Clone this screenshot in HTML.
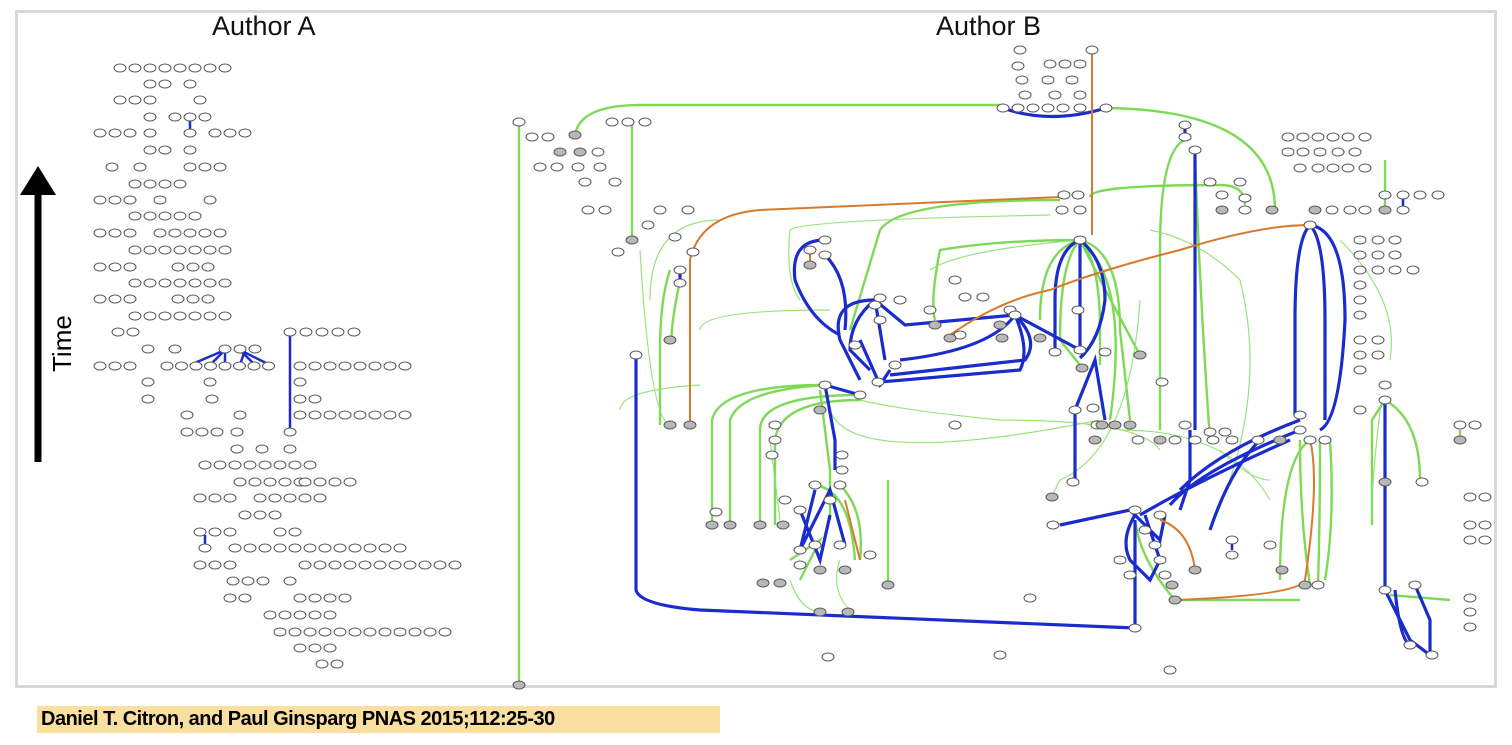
<!DOCTYPE html>
<html><head><meta charset="utf-8"><style>
body{margin:0;width:1512px;height:745px;background:#fff;overflow:hidden;position:relative;font-family:"Liberation Sans",sans-serif}
#frame{position:absolute;left:15px;top:10px;width:1482px;height:678px;border:3px solid #d8d8d8;box-sizing:border-box}
.t{position:absolute;font-size:27px;color:#111;top:11px}
#cap{position:absolute;left:37px;top:706px;width:683px;height:27px;background:#f9e0a0;font-weight:bold;font-size:20px;line-height:27px;padding-left:4px;box-sizing:border-box;letter-spacing:-0.5px;color:#000}
svg{position:absolute;left:0;top:0}
</style></head><body>
<div id="frame"></div>
<div class="t" style="left:212px">Author A</div>
<div class="t" style="left:936px">Author B</div>
<div style="position:absolute;left:47px;transform:rotate(-90deg);transform-origin:left top;font-size:26px;top:372px">Time</div>
<div id="cap">Daniel T. Citron, and Paul Ginsparg PNAS 2015;112:25-30</div>
<svg width="1512" height="745" id="s">
<line x1="38" y1="462" x2="38" y2="190" stroke="#000" stroke-width="7"/>
<polygon points="20,195 38,166 56,195" fill="#000"/>
<g fill="none" stroke="#7ed957" stroke-width="2.4" id="gl">
<path d="M519 122 V685"/>
<path d="M575 135 Q580 105 640 105 H1003"/>
<path d="M1106 108 Q1275 110 1275 210"/>
<path d="M632 120 V240"/>
<path d="M1080 240 Q1000 240 940 250 Q930 300 935 320"/>
<path d="M1080 240 Q1040 250 1040 320"/>
<path d="M1080 240 Q1110 300 1140 355"/>
<path d="M1080 240 Q1130 280 1110 420"/>
<path d="M1080 240 Q1060 260 1060 340 L1080 365"/>
<path d="M1080 240 Q1100 260 1100 330 L1100 365"/>
<path d="M1080 240 Q1120 250 1120 330 L1130 420"/>
<path d="M825 385 Q720 385 712 420 V525"/>
<path d="M825 385 Q740 390 730 420 V525"/>
<path d="M860 395 Q760 395 760 430 V525"/>
<path d="M860 400 Q780 400 775 440 V525"/>
<path d="M820 390 L830 470 V520"/>
<path d="M815 485 Q850 490 855 560"/>
<path d="M840 485 Q865 510 860 560"/>
<path d="M800 580 L820 540 L790 560"/>
<path d="M888 585 V480"/>
<path d="M1310 440 Q1280 460 1280 580"/>
<path d="M1300 440 Q1300 520 1310 585"/>
<path d="M1320 440 Q1320 520 1318 585"/>
<path d="M1330 440 Q1335 520 1325 580"/>
<path d="M1385 400 L1372 420 V525"/>
<path d="M1385 400 Q1420 420 1420 480"/>
<path d="M1090 197 Q1090 185 1220 185 Q1245 185 1245 205"/>
<path d="M1060 200 Q900 200 880 230 L850 330"/>
<path d="M670 270 Q660 300 660 350 V425"/>
<path d="M680 280 Q670 330 672 340"/>
<path d="M1185 140 Q1160 150 1160 250 V430"/>
<path d="M1195 155 Q1200 300 1210 440"/>
<path d="M1385 160 V210"/>
<path d="M1135 520 Q1140 560 1175 600 H1300"/>
<path d="M1460 430 V440"/>
<path d="M1390 595 L1450 600"/>
</g>
<g fill="none" stroke="#8fe070" stroke-width="1.2" opacity=".9">
<path d="M700 330 Q700 310 830 310"/>
<path d="M640 250 Q650 420 670 425"/>
<path d="M790 230 Q800 220 1050 215"/>
<path d="M790 230 Q785 280 800 300"/>
<path d="M860 400 Q900 410 1000 420 Q1140 420 1160 450"/>
<path d="M830 410 Q850 470 1100 420"/>
<path d="M930 270 Q960 250 1080 240"/>
<path d="M1140 300 Q1130 450 1060 480 L1050 500"/>
<path d="M1120 430 Q1230 430 1270 500"/>
<path d="M1150 230 Q1200 240 1240 280 Q1270 400 1210 530"/>
<path d="M620 410 Q620 390 700 385"/>
<path d="M720 220 Q650 220 650 300"/>
<path d="M770 440 L780 520"/>
<path d="M840 560 Q830 590 850 610"/>
<path d="M790 580 Q800 610 820 612"/>
<path d="M1220 450 Q1250 480 1270 480"/>
<path d="M1380 410 Q1370 500 1372 520"/>
<path d="M1340 240 Q1400 300 1390 360"/>
</g>
<g fill="none" stroke="#1a2ccc" stroke-width="3.2">
<path d="M636 355 V590 Q640 605 700 610 L1135 628"/>
<path d="M1135 628 V520"/>
<path d="M1003 108 Q1050 125 1106 108"/>
<path d="M1080 240 V350"/>
<path d="M1080 240 Q1055 250 1055 300 V352"/>
<path d="M1080 240 Q1105 260 1105 300 Q1100 340 1080 358"/>
<path d="M1195 150 V430"/>
<path d="M1310 225 Q1295 240 1295 320 V415"/>
<path d="M1310 225 Q1325 240 1325 320 V420"/>
<path d="M1310 225 Q1345 230 1345 320 Q1340 420 1320 430"/>
<path d="M1300 420 Q1220 450 1180 490"/>
<path d="M1300 430 Q1200 470 1170 505"/>
<path d="M1290 440 Q1200 480 1140 515"/>
<path d="M1190 430 V480 L1180 510"/>
<path d="M1135 515 Q1120 540 1130 560 L1150 580 L1160 560 L1145 515"/>
<path d="M1060 525 L1130 510 L1160 540 L1165 515"/>
<path d="M1075 410 V480"/>
<path d="M1075 410 L1095 360 L1105 420"/>
<path d="M1015 315 Q990 350 900 360"/>
<path d="M1015 315 Q1040 340 1025 360 L890 375"/>
<path d="M1015 315 Q1030 350 1020 370 L880 382"/>
<path d="M1015 315 L905 325 L875 300"/>
<path d="M1015 315 L1080 350"/>
<path d="M875 300 Q830 300 840 340 L860 380"/>
<path d="M875 300 Q850 320 850 350 L870 370"/>
<path d="M860 340 L880 385 L890 370"/>
<path d="M875 300 L885 360"/>
<path d="M825 240 Q790 240 795 280 Q810 320 840 335"/>
<path d="M825 255 Q850 280 845 330"/>
<path d="M825 385 L835 440 V470"/>
<path d="M825 385 L860 395"/>
<path d="M815 490 L800 550 L830 490 L845 545"/>
<path d="M800 510 L820 560 L830 515"/>
<path d="M1385 400 V590 L1410 640 L1430 655 V620 L1415 585"/>
<path d="M1395 590 Q1400 640 1410 645"/>
<path d="M1185 125 V135"/>
<path d="M680 270 V280"/>
<path d="M1260 440 Q1230 470 1210 530"/>
</g>
<g fill="none" stroke="#d9792c" stroke-width="2">
<path d="M1092 52 V235"/>
<path d="M690 425 V260 Q700 215 760 210 L1060 197"/>
<path d="M950 335 Q1000 300 1050 290 Q1100 270 1180 250 Q1260 225 1310 225"/>
<path d="M1160 520 Q1190 530 1195 570"/>
<path d="M1175 600 Q1300 595 1305 580 Q1320 480 1310 440"/>
<path d="M810 250 V262"/>
<path d="M845 500 L860 560"/>
</g>
<g stroke="#1a2ccc" stroke-width="2.5">
<line x1="190" y1="120" x2="190" y2="130"/>
<line x1="290" y1="335" x2="290" y2="432"/>
<line x1="190" y1="365" x2="225" y2="350"/><line x1="210" y1="365" x2="225" y2="350"/>
<line x1="225" y1="350" x2="225" y2="365"/><line x1="240" y1="350" x2="255" y2="365"/>
<line x1="240" y1="350" x2="270" y2="365"/><line x1="245" y1="350" x2="240" y2="365"/>
<line x1="205" y1="535" x2="205" y2="545"/>
<line x1="1232" y1="540" x2="1232" y2="550"/>
<line x1="1403" y1="198" x2="1403" y2="206"/>
</g>
<g id="el" stroke="#555" stroke-width="1"></g>
</svg>
<script>
var g=document.getElementById('el'),ns='http://www.w3.org/2000/svg';
function E(x,y,gr){var e=document.createElementNS(ns,'ellipse');e.setAttribute('cx',x);e.setAttribute('cy',y);e.setAttribute('rx',6);e.setAttribute('ry',4);e.setAttribute('fill',gr?'#b8b8b8':'#fff');g.appendChild(e);}
function R(y,x0,n,d){for(var i=0;i<n;i++)E(x0+i*(d||15),y);}
var A=[[68,[[120,8]]],[84,[[150,1],[165,1],[190,1]]],[100,[[120,2],[150,1],[200,1]]],[117,[[150,1],[175,3]]],[133,[[100,3],[150,1],[190,1],[215,3]]],[150,[[150,2],[190,1]]],[167,[[112,1],[140,1],[190,3]]],[184,[[135,4]]],[200,[[100,3],[160,1],[210,1]]],[216,[[135,5]]],[233,[[100,3],[160,5]]],[250,[[135,7]]],[267,[[100,3],[178,3]]],[283,[[135,7]]],[299,[[100,3],[178,3]]],[316,[[135,7]]],[332,[[118,2],[290,5,16]]],[349,[[148,1],[175,1],[225,3]]],[366,[[100,3],[167,8,14.5],[300,8]]],[382,[[148,1],[210,1],[300,1]]],[399,[[148,1],[212,1],[300,2]]],[415,[[187,1],[240,1],[300,8]]],[432,[[187,3],[237,1],[290,1]]],[449,[[237,1],[262,1],[290,1]]],[465,[[205,8]]],[482,[[240,5],[305,4]]],[498,[[200,3],[260,5]]],[515,[[245,3]]],[532,[[200,3],[280,2]]],[548,[[205,1],[235,12]]],[565,[[200,3],[305,11]]],[581,[[233,3],[290,1]]],[598,[[230,2],[300,4]]],[615,[[270,5]]],[632,[[280,2],[310,10]]],[648,[[300,3]]],[664,[[322,2]]]];
A.forEach(function(r){r[1].forEach(function(s){R(r[0],s[0],s[1],s[2])})});
var B=[[1020,50],[1092,50],[1018,66],[1050,64],[1065,64],[1080,64],[1022,80],[1048,80],[1072,80],[1025,95],[1055,95],[1080,95],[1003,108],[1018,108],[1033,108],[1048,108],[1063,108],[1080,108],[1106,108],[519,122],[575,135,1],[532,137],[548,137],[612,122],[628,122],[645,122],[560,152,1],[580,152,1],[598,152],[540,167],[557,167],[578,167],[600,167],[585,182],[615,182],[588,210],[605,210],[632,240,1],[660,210],[688,210],[648,225],[675,237],[618,252],[693,252],[1185,125],[1185,137],[1195,150],[1288,137],[1303,137],[1318,137],[1333,137],[1348,137],[1365,137],[1288,152],[1303,152],[1320,152],[1338,152],[1355,152],[1300,168],[1318,168],[1333,168],[1348,168],[1365,168],[1385,195],[1403,195],[1420,195],[1438,195],[1385,210,1],[1403,210],[1064,195],[1078,195],[1210,182],[1240,182],[1222,195],[1245,198],[1222,210,1],[1245,210],[1272,210,1],[1062,210],[1080,210],[1315,210,1],[1332,210],[1350,210],[1365,210],[1310,225],[1080,240],[1360,240],[1378,240],[1395,240],[1360,255],[1378,255],[1395,255],[1360,270],[1378,270],[1395,270],[1413,270],[1360,285],[1360,300],[1360,315],[1360,340],[1378,340],[1360,355],[1378,355],[1360,370],[1385,385],[1360,410],[1385,400],[1460,425],[1475,425],[1460,440,1],[680,270],[680,283],[670,340,1],[825,240],[810,250],[825,255],[810,265,1],[1385,482,1],[1422,482],[636,355],[670,425,1],[690,425,1],[825,385],[860,395],[820,410,1],[955,280],[900,300],[880,298],[930,310],[965,297],[983,297],[935,325,1],[1010,310],[1015,315],[1078,310],[880,320],[855,345],[875,305],[960,335],[895,365],[878,382],[1080,350],[1055,352],[1002,338,1],[1040,338,1],[1000,325,1],[950,338,1],[1105,352],[1082,368,1],[1140,355,1],[1162,382],[1093,408],[1075,410],[1097,425],[1102,425,1],[1115,425,1],[1130,425,1],[1095,440,1],[1138,440],[1160,440,1],[1175,440],[1195,440],[1213,440],[1232,440],[1258,440],[1280,440,1],[1300,415],[1300,430],[1310,440],[1325,440],[1185,425],[1210,432],[1225,432],[955,425],[775,425],[775,440],[772,455],[842,455],[842,470],[815,485],[840,485],[785,500],[800,510],[830,500],[1073,482],[1052,497,1],[1053,525],[1135,510],[1160,515],[1145,530],[1155,545],[1160,560],[1120,560],[1130,575],[1165,575],[1172,585,1],[1195,570,1],[1232,540],[1232,555],[1270,545],[1282,570,1],[1305,585,1],[1318,585],[1175,600,1],[1030,598],[716,512],[712,525,1],[730,525,1],[760,525,1],[783,525,1],[800,550],[815,545],[840,545],[800,565],[820,570,1],[845,570,1],[870,555],[888,585,1],[763,583,1],[780,583,1],[820,612,1],[848,612,1],[1135,628],[828,657],[1000,655],[1170,670],[1410,645],[1432,655],[1415,585],[1385,590],[1470,497],[1485,497],[1470,525],[1485,525],[1470,540],[1485,540],[1470,598],[1470,612],[1470,627],[519,685,1]];
B.forEach(function(b){E(b[0],b[1],b[2])});
</script>
</body></html>
